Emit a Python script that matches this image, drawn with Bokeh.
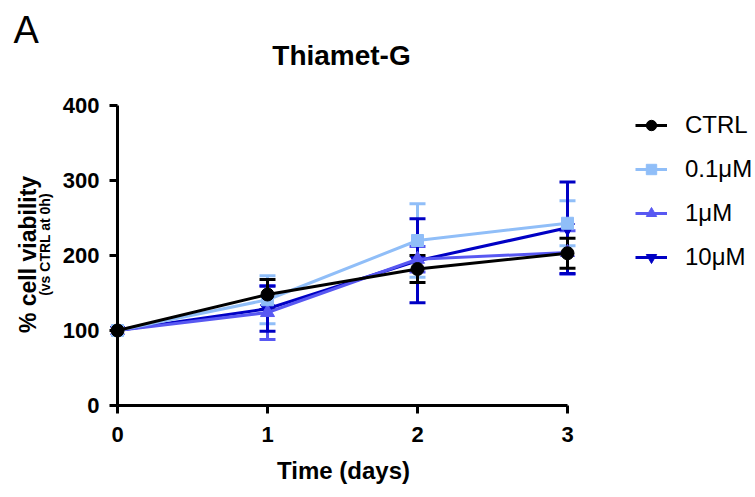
import math
from bokeh.plotting import figure
from bokeh.models import (ColumnDataSource, Whisker, TeeHead, Label, Legend, LegendItem,
                          FixedTicker, Range1d)
from bokeh.embed import file_html
from bokeh.resources import INLINE

# ---- data ----
days = [0, 1, 2, 3]
series_names = ["CTRL", "0.1\u03bcM", "1\u03bcM", "10\u03bcM"]
ctrl_mean = [100, 148, 182, 203]
ctrl_err = [0, 20, 18, 20]
c01_mean = [100, 141, 220, 243]
c01_err = [0, 32, 49, 30]
c1_mean = [100, 124, 195, 204]
c1_err = [0, 36, 17, 29]
c10_mean = [100, 129, 193, 237]
c10_err = [0, 30, 56, 61]
y_ticks = [0, 100, 200, 300, 400]
x_ticks = [0, 1, 2, 3]

colors = {"CTRL": "#000000", "0.1\u03bcM": "#90BEF8", "1\u03bcM": "#5858F2", "10\u03bcM": "#0000C4"}
markers = {"CTRL": ("circle", 13), "0.1\u03bcM": ("square", 12), "1\u03bcM": ("triangle", 14),
           "10\u03bcM": ("inverted_triangle", 14)}
data = {
    "CTRL": (ctrl_mean, ctrl_err),
    "0.1\u03bcM": (c01_mean, c01_err),
    "1\u03bcM": (c1_mean, c1_err),
    "10\u03bcM": (c10_mean, c10_err),
}

FONT = "Liberation Sans"
W, H = 755, 497
X0, Y0 = 117, 405      # canvas pixel of data (0, 0)
SX, SY = 150.0, 0.75   # pixels per data unit
SHIFT = 0.33           # empirical baseline correction (fraction of font size)

p = figure(width=W, height=H,
           x_range=Range1d(-X0 / SX, (W - X0) / SX),
           y_range=Range1d((Y0 - H) / SY, Y0 / SY),
           output_backend="svg", toolbar_location=None,
           min_border_left=0, min_border_right=0, min_border_top=0, min_border_bottom=0)
p.outline_line_color = None
p.xgrid.visible = False
p.ygrid.visible = False
p.background_fill_color = "white"
p.border_fill_color = "white"

for ax, ticks, bounds in ((p.xaxis[0], x_ticks, (0, 3)), (p.yaxis[0], y_ticks, (0, 400))):
    ax.ticker = FixedTicker(ticks=ticks)
    ax.bounds = bounds
    ax.fixed_location = 0
    ax.axis_line_width = 3
    ax.axis_line_color = "black"
    ax.major_tick_line_width = 3
    ax.major_tick_line_color = "black"
    ax.major_tick_out = 8
    ax.major_tick_in = 0
    ax.minor_tick_line_color = None
    ax.major_label_text_font = FONT
    ax.major_label_text_font_style = "bold"
    ax.major_label_text_font_size = "22px"
    ax.major_label_text_color = "black"
p.xaxis[0].major_label_standoff = 13
p.yaxis[0].major_label_standoff = 10

# error bars
for name in ["0.1\u03bcM", "1\u03bcM", "10\u03bcM", "CTRL"]:
    mean, err = data[name]
    idx = [i for i in range(len(days)) if err[i] > 0]
    src = ColumnDataSource(dict(
        x=[days[i] for i in idx],
        upper=[mean[i] + err[i] for i in idx],
        lower=[mean[i] - err[i] for i in idx]))
    col = colors[name]
    w = Whisker(base="x", upper="upper", lower="lower", source=src,
                line_color=col, line_width=3,
                upper_head=TeeHead(size=16, line_color=col, line_width=3),
                lower_head=TeeHead(size=16, line_color=col, line_width=3))
    p.add_layout(w)

items = {}
for name in ["10\u03bcM", "1\u03bcM", "0.1\u03bcM", "CTRL"]:
    mean, err = data[name]
    col = colors[name]
    lr = p.line(days, mean, line_color=col, line_width=3)
    mk, sz = markers[name]
    sr = p.scatter(days, mean, marker=mk, size=sz, fill_color=col, line_color=col)
    items[name] = LegendItem(label=name, renderers=[lr, sr])

legend = Legend(items=[items[n] for n in series_names],
                location=(635, 226),
                glyph_width=32, glyph_height=26, label_height=26,
                spacing=16, padding=0, margin=0, label_standoff=18,
                label_text_font=FONT, label_text_font_size="24px",
                label_text_color="black",
                border_line_alpha=0, background_fill_alpha=0)
p.add_layout(legend)

def px_to_x(cx):
    return (cx - X0) / SX

def px_to_y(cy):
    return (Y0 - cy) / SY

def hlabel(text, cx, base_y, size, align, bold=True):
    return Label(x=px_to_x(cx), y=px_to_y(base_y - SHIFT * size), text=text, text_font=FONT,
                 text_font_size=f"{size}px", text_font_style="bold" if bold else "normal",
                 text_align=align, text_baseline="alphabetic", text_color="black")

def vlabel(text, base_x, cy, size):
    return Label(x=px_to_x(base_x - SHIFT * size), y=px_to_y(cy), text=text, text_font=FONT,
                 text_font_size=f"{size}px", text_font_style="bold", text_align="center",
                 text_baseline="alphabetic", angle=math.pi / 2, text_color="black")

p.add_layout(hlabel("A", 13, 42, 38, "left", bold=False))
p.add_layout(hlabel("Thiamet-G", 341, 64, 28, "center"))
p.add_layout(hlabel("Time (days)", 343, 478, 24, "center"))
p.add_layout(vlabel("% cell viability", 35, 254, 23))
p.add_layout(vlabel("(vs CTRL at 0h)", 49, 244, 14))

html = file_html(p, INLINE)
open("out.html", "w").write(html)
